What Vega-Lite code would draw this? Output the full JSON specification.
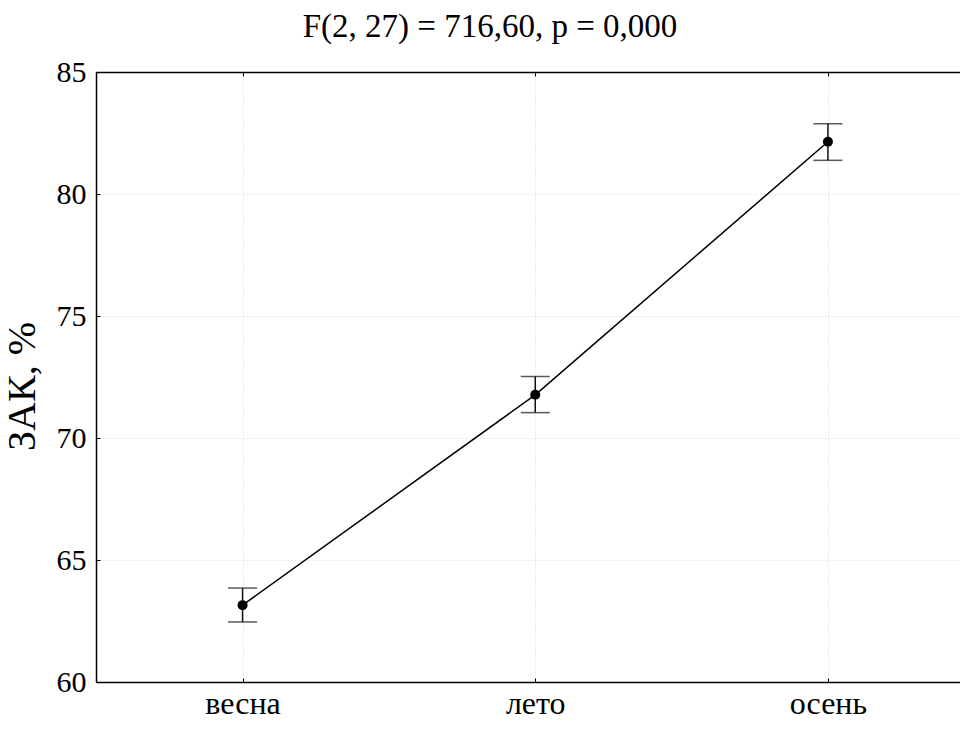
{
  "$schema": "https://vega.github.io/schema/vega-lite/v6.json",
  "autosize": "none",
  "width": 864,
  "height": 610,
  "padding": {"left": 96, "top": 72, "right": 0, "bottom": 47},
  "background": "white",
  "title": {
    "text": "F(2, 27) = 716,60, p = 0,000",
    "font": "Liberation Serif",
    "fontSize": 33,
    "fontWeight": "normal",
    "color": "black",
    "anchor": "middle",
    "dx": -38,
    "offset": 13
  },
  "config": {
    "view": {"stroke": null},
    "axis": {
      "labelFont": "Liberation Serif",
      "labelColor": "black",
      "titleFont": "Liberation Serif",
      "titleFontWeight": "normal",
      "titleColor": "black",
      "domainColor": "black",
      "domainWidth": 1.5,
      "tickColor": "black",
      "tickWidth": 1,
      "tickSize": -4,
      "gridColor": "#d8d8d8",
      "gridDash": [1, 2],
      "gridWidth": 1
    }
  },
  "data": {
    "values": [
      {"season": "весна", "mean": 63.15, "lo": 62.46, "hi": 63.85},
      {"season": "лето", "mean": 71.77, "lo": 71.04, "hi": 72.52},
      {"season": "осень", "mean": 82.14, "lo": 81.38, "hi": 82.88}
    ]
  },
  "resolve": {"axis": {"x": "independent", "y": "independent"}},
  "layer": [
    {
      "mark": {"type": "line", "color": "black", "strokeWidth": 1.5},
      "encoding": {
        "x": {
          "field": "season", "type": "nominal", "sort": null,
          "scale": {"type": "point", "padding": 0.476, "align": 0.526},
          "axis": {"orient": "bottom", "title": null, "labelAngle": 0, "labelPadding": 10, "labelFontSize": 32, "grid": true}
        },
        "y": {
          "field": "mean", "type": "quantitative",
          "scale": {"domain": [60, 85], "nice": false, "zero": false},
          "axis": {"orient": "left", "title": "ЗАК, %", "values": [60, 65, 70, 75, 80, 85], "labelFontSize": 30, "titleFontSize": 40, "labelPadding": 14, "titlePadding": 14, "titleY": 314, "grid": true}
        }
      }
    },
    {
      "mark": {"type": "rule", "color": "#111", "strokeWidth": 1.5},
      "encoding": {
        "x": {"field": "season", "type": "nominal", "sort": null, "axis": null},
        "y": {"field": "lo", "type": "quantitative", "axis": null},
        "y2": {"field": "hi"}
      }
    },
    {
      "mark": {"type": "tick", "color": "#111", "size": 29, "thickness": 1.5},
      "encoding": {
        "x": {"field": "season", "type": "nominal", "sort": null, "axis": null},
        "y": {"field": "lo", "type": "quantitative", "axis": null}
      }
    },
    {
      "mark": {"type": "tick", "color": "#111", "size": 29, "thickness": 1.5},
      "encoding": {
        "x": {"field": "season", "type": "nominal", "sort": null, "axis": null},
        "y": {"field": "hi", "type": "quantitative", "axis": null}
      }
    },
    {
      "mark": {"type": "point", "filled": true, "color": "black", "size": 100, "opacity": 1},
      "encoding": {
        "x": {"field": "season", "type": "nominal", "sort": null,
          "axis": {"orient": "top", "title": null, "labels": false, "grid": false}},
        "y": {"field": "mean", "type": "quantitative", "axis": null}
      }
    }
  ]
}
